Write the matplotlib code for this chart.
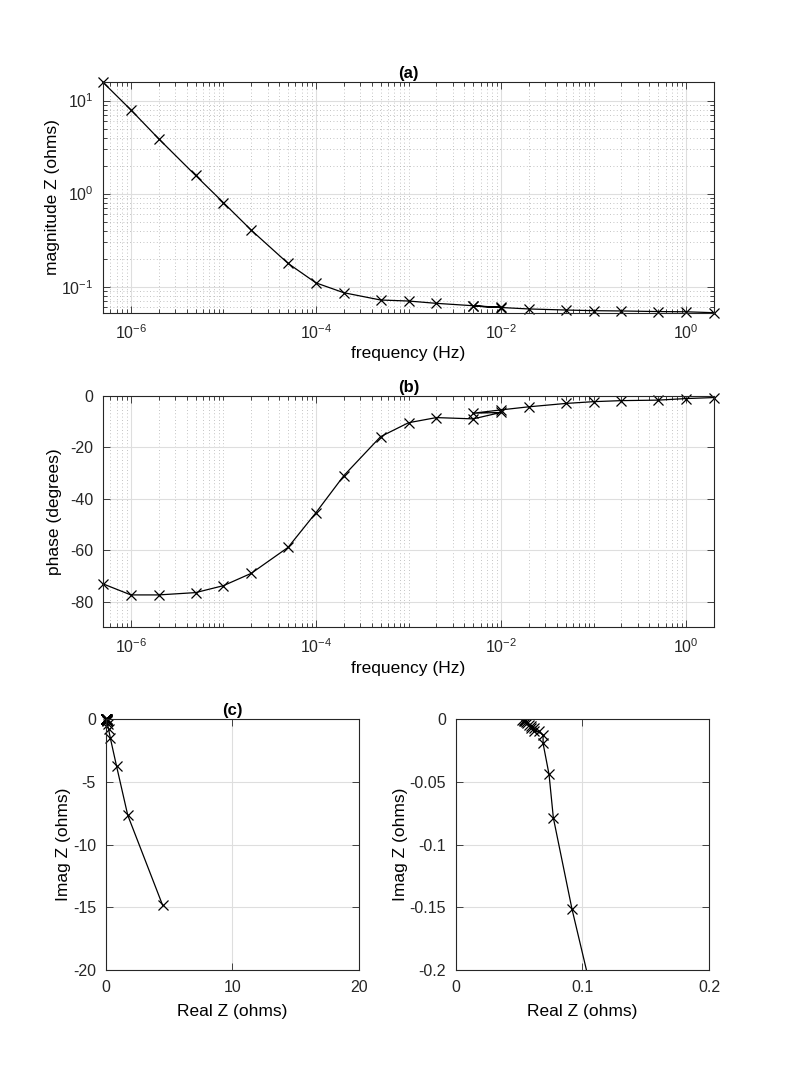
import numpy as np
import matplotlib
matplotlib.use('Agg')
import matplotlib.pyplot as plt
from matplotlib.ticker import LogLocator, FixedLocator, NullFormatter

plt.rcParams['font.family'] = ['Liberation Sans', 'DejaVu Sans']
plt.rcParams['mathtext.fontset'] = 'custom'
plt.rcParams['mathtext.rm'] = 'Liberation Sans'
plt.rcParams['mathtext.it'] = 'Liberation Sans'
plt.rcParams['axes.unicode_minus'] = False

# frequencies (Hz); two sweeps overlap at 5e-3 and 1e-2
freq = [5e-7, 1e-6, 2e-6, 5e-6, 1e-5, 2e-5, 5e-5, 1e-4, 2e-4, 5e-4, 1e-3, 2e-3,
        5e-3, 1e-2, 5e-3, 1e-2, 2e-2, 5e-2, 0.1, 0.2, 0.5, 1.0, 2.0]
mag = [15.7, 7.94, 3.88, 1.57, 0.80, 0.405, 0.178, 0.110, 0.0862, 0.072, 0.0702, 0.0663,
       0.0625, 0.0600, 0.0620, 0.0598, 0.0577, 0.0562, 0.0553, 0.0549, 0.0541, 0.0538, 0.0526]
phase = [-73.1, -77.4, -77.4, -76.5, -73.8, -69.0, -58.9, -45.4, -31.0, -15.8, -10.4, -8.4,
         -8.9, -6.4, -6.7, -5.4, -4.2, -2.9, -2.2, -1.8, -1.6, -1.0, -0.6]
re_z = [4.50, 1.74, 0.86, 0.37, 0.223, 0.145, 0.0918, 0.0771, 0.0737, 0.0690, 0.0690, 0.0656,
        0.0618, 0.0596, 0.0616, 0.0595, 0.0575, 0.0561, 0.0553, 0.0549, 0.0541, 0.0538, 0.0526]
im_z = [-14.85, -7.65, -3.75, -1.52, -0.768, -0.378, -0.1513, -0.0786, -0.0440, -0.0193, -0.0127, -0.0097,
        -0.0097, -0.0067, -0.0072, -0.0056, -0.0042, -0.0028, -0.0021, -0.0017, -0.0015, -0.0009, -0.0006]

W, H = 789, 1078
fig = plt.figure(figsize=(W / 100, H / 100), dpi=100)

axcol = '#262626'
tick_fs = 11.5
lab_fs = 12.5


def style(ax):
    for s in ax.spines.values():
        s.set_color(axcol)
        s.set_linewidth(0.8)
    ax.tick_params(which='both', direction='in', top=True, right=True,
                   colors=axcol, labelsize=tick_fs, width=0.6)
    ax.tick_params(which='major', length=5)
    ax.tick_params(which='minor', length=3)
    ax.tick_params(axis='x', pad=7.5)
    ax.tick_params(axis='y', pad=7)
    ax.set_axisbelow(True)


def pos(l, t, r, b):
    return [l / W, 1 - b / H, (r - l) / W, (b - t) / H]


def logx(ax):
    ax.set_xscale('log')
    ax.set_xlim(min(freq), max(freq))
    ax.xaxis.set_major_locator(FixedLocator([1e-6, 1e-4, 1e-2, 1]))
    ax.xaxis.set_minor_locator(LogLocator(base=10, subs=np.arange(1, 10), numticks=100))
    ax.xaxis.set_minor_formatter(NullFormatter())
    ax.set_xticklabels(['$10^{-6}$', '$10^{-4}$', '$10^{-2}$', '$10^{0}$'])
    ax.grid(True, which='major', color='#dedede', linewidth=0.8)
    ax.grid(True, which='minor', axis='x', color='#b0b0b0', linestyle=(0, (1, 3)), linewidth=0.6)


line_kw = dict(color='black', linewidth=0.9, marker='x', markersize=7, markeredgewidth=0.9)

# (a) magnitude
ax1 = fig.add_axes(pos(103, 82.3, 714, 312.7))
style(ax1)
logx(ax1)
ax1.set_yscale('log')
ax1.set_ylim(min(mag), max(mag))
ax1.yaxis.set_major_locator(FixedLocator([0.1, 1, 10]))
ax1.yaxis.set_minor_locator(LogLocator(base=10, subs=np.arange(2, 10), numticks=100))
ax1.yaxis.set_minor_formatter(NullFormatter())
ax1.set_yticklabels(['$10^{-1}$', '$10^{0}$', '$10^{1}$'])
ax1.grid(True, which='minor', axis='y', color='#b0b0b0', linestyle=(0, (1, 3)), linewidth=0.6)
ax1.plot(freq, mag, clip_on=False, **line_kw)
ax1.set_title('(a)', fontsize=12, fontweight='bold', pad=3)
ax1.set_xlabel('frequency (Hz)', fontsize=lab_fs, labelpad=3)
ax1.set_ylabel('magnitude Z (ohms)', fontsize=lab_fs, labelpad=1)

# (b) phase
ax2 = fig.add_axes(pos(103, 396, 714, 627.3))
style(ax2)
logx(ax2)
ax2.set_ylim(-90, 0)
ax2.set_yticks([-80, -60, -40, -20, 0])
ax2.plot(freq, phase, clip_on=False, **line_kw)
ax2.set_title('(b)', fontsize=12, fontweight='bold', pad=3)
ax2.set_xlabel('frequency (Hz)', fontsize=lab_fs, labelpad=3)
ax2.set_ylabel('phase (degrees)', fontsize=lab_fs, labelpad=6)

# (c) Nyquist, full view
ax3 = fig.add_axes(pos(105.7, 719.3, 359, 970))
style(ax3)
ax3.set_xlim(0, 20)
ax3.set_ylim(-20, 0)
ax3.set_xticks([0, 10, 20])
ax3.set_yticks([-20, -15, -10, -5, 0])
ax3.grid(True, color='#dedede', linewidth=0.8)
ax3.plot(re_z, im_z, clip_on=False, **line_kw)
ax3.set_title('(c)', fontsize=12, fontweight='bold', pad=3)
ax3.set_xlabel('Real Z (ohms)', fontsize=lab_fs, labelpad=6)
ax3.set_ylabel('Imag Z (ohms)', fontsize=lab_fs, labelpad=1)

# (c) Nyquist, zoomed
ax4 = fig.add_axes(pos(455.7, 719.3, 709, 970))
style(ax4)
ax4.set_xlim(0, 0.2)
ax4.set_ylim(-0.2, 0)
ax4.set_xticks([0, 0.1, 0.2])
ax4.set_xticklabels(['0', '0.1', '0.2'])
ax4.set_yticks([-0.2, -0.15, -0.1, -0.05, 0])
ax4.set_yticklabels(['-0.2', '-0.15', '-0.1', '-0.05', '0'])
ax4.grid(True, color='#dedede', linewidth=0.8)
ax4.plot(re_z, im_z, **line_kw)
ax4.set_xlabel('Real Z (ohms)', fontsize=lab_fs, labelpad=6)
ax4.set_ylabel('Imag Z (ohms)', fontsize=lab_fs, labelpad=1)

fig.savefig('out.png', dpi=100)
